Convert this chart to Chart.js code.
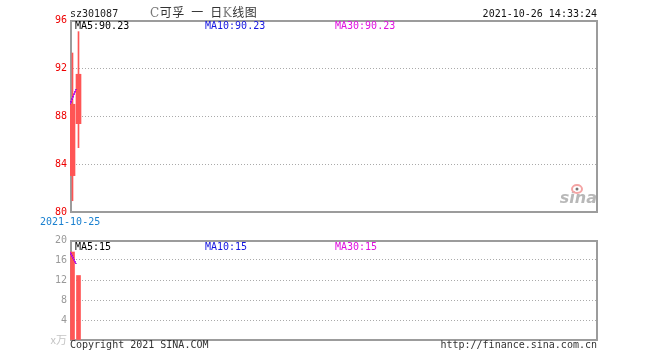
<!DOCTYPE html>
<html><head><meta charset="utf-8">
<script src="https://cdn.jsdelivr.net/npm/chart.js@4.4.0/dist/chart.umd.min.js"></script>
<style>
html,body{margin:0;padding:0;background:#fff;width:660px;height:360px;overflow:hidden;}
#wrap{position:relative;width:660px;height:360px;}
canvas{position:absolute;left:0;}
.t{position:absolute;font:10px "DejaVu Sans Mono",monospace;line-height:12px;white-space:pre;}
.cn{position:absolute;font:12px "Noto Sans CJK SC",sans-serif;line-height:14px;white-space:pre;color:#333;letter-spacing:0.5px;}
.cn .l{color:#777;font-family:"DejaVu Serif",serif;}
</style></head><body>
<div id="wrap">
<canvas id="k" width="660" height="230" style="top:0"></canvas>
<canvas id="v" width="660" height="130" style="top:230px"></canvas>
<div class="t" style="left:70px;top:7.5px;color:#222">sz301087</div>
<div class="cn" style="left:150px;top:4.5px"><span class="l">C</span>可孚&#8194;一&#8194;日<span class="l">K</span>线图</div>
<div class="t" style="right:63px;top:7.5px;color:#111">2021-10-26 14:33:24</div>
<div class="t" id="m5" style="left:75px;top:19.5px;color:#000"></div>
<div class="t" id="m10" style="left:205px;top:19.5px;color:#1515e0"></div>
<div class="t" id="m30" style="left:335px;top:19.5px;color:#e010e0"></div>
<div class="t" id="d0" style="left:40px;top:215.5px;color:#1a80d0"></div>
<div class="t" id="v5" style="left:75px;top:240.5px;color:#000"></div>
<div class="t" id="v10" style="left:205px;top:240.5px;color:#1515e0"></div>
<div class="t" id="v30" style="left:335px;top:240.5px;color:#e010e0"></div>
<div class="t" style="left:70px;top:338.5px;color:#333">Copyright 2021 SINA.COM</div>
<div class="t" style="right:63px;top:338.5px;color:#333">http://finance.sina.com.cn</div>
</div>
<script>
// ---- data ----
const categories = ['2021-10-25', '2021-10-26'];
const openP  = [83.03, 87.36];
const closeP = [88.98, 91.48];
const highP  = [93.25, 95.03];
const lowP   = [80.94, 85.36];
const ma5  = [88.98, 90.23];
const ma10 = [88.98, 90.23];
const ma30 = [88.98, 90.23];
const volume  = [17.6, 12.9];   // x万
const volMa5  = [17.6, 15.25];
const volMa10 = [17.6, 15.25];
const volMa30 = [17.6, 15.25];
const priceTicks = [80, 84, 88, 92, 96];
const volTicks = [0, 4, 8, 12, 16, 20];
const slotCount = 88;

const RED = '#ff5555';
const last = a => a[a.length - 1];
document.getElementById('m5').textContent = 'MA5:' + last(ma5).toFixed(2);
document.getElementById('m10').textContent = 'MA10:' + last(ma10).toFixed(2);
document.getElementById('m30').textContent = 'MA30:' + last(ma30).toFixed(2);
document.getElementById('v5').textContent = 'MA5:' + Math.round(last(volMa5));
document.getElementById('v10').textContent = 'MA10:' + Math.round(last(volMa10));
document.getElementById('v30').textContent = 'MA30:' + Math.round(last(volMa30));
document.getElementById('d0').textContent = categories[0];

const pts = arr => arr.map((v, i) => ({x: i, y: v}));
const range = (a, b) => a.map((v, i) => ({x: i, y: [v, b[i]]}));

const frame = {
  id: 'frame',
  beforeDatasetsDraw(chart) {
    const {ctx, chartArea: a} = chart;
    ctx.save();
    ctx.strokeStyle = '#9c9c9c';
    ctx.lineWidth = 2;
    ctx.strokeRect(a.left + 1, a.top + 1, a.right - a.left - 2, a.bottom - a.top - 1);
    ctx.restore();
  }
};
const logo = {
  id: 'logo',
  afterDraw(chart) {
    const {ctx, chartArea: a} = chart;
    ctx.save();
    ctx.fillStyle = '#b8b8b8';
    ctx.font = 'italic bold 16px "DejaVu Sans"';
    ctx.textAlign = 'right';
    ctx.textBaseline = 'alphabetic';
    ctx.fillText('sina', a.right - 1, a.bottom - 9);
    ctx.strokeStyle = '#f4a4a4';
    ctx.lineWidth = 2;
    ctx.beginPath();
    ctx.ellipse(a.right - 21, a.bottom - 23, 5, 4, 0, 0, Math.PI * 2);
    ctx.stroke();
    ctx.fillStyle = '#777';
    ctx.beginPath();
    ctx.arc(a.right - 21, a.bottom - 23, 1.5, 0, Math.PI * 2);
    ctx.fill();
    ctx.restore();
  }
};

const monoFont = {family: '"DejaVu Sans Mono", monospace', size: 10};
const lineDs = (data, color, axis) => ({
  type: 'line', data: pts(data), xAxisID: axis, borderColor: color, borderWidth: 1,
  pointRadius: 0, tension: 0, fill: false
});
const common = {
  responsive: false, maintainAspectRatio: false, animation: false, devicePixelRatio: 1,
  plugins: {legend: {display: false}, tooltip: {enabled: false}, title: {display: false}},
  events: []
};
const xScales = {
  x: {type: 'linear', min: -0.4167, max: slotCount - 0.4167, display: false, offset: false, grid: {offset: false}},
  xm: {type: 'linear', min: 0, max: slotCount, display: false, offset: false, grid: {offset: false}}
};

new Chart(document.getElementById('k'), {
  type: 'bar',
  data: {
    datasets: [
      lineDs(ma30, '#ff00ff', 'xm'),
      lineDs(ma10, '#2020ff', 'xm'),
      lineDs(ma5, '#000000', 'xm'),
      {data: range(openP, closeP), backgroundColor: RED, barThickness: 5, grouped: false, borderWidth: 0, xAxisID: 'x'},
      {data: range(lowP, highP), backgroundColor: RED, barThickness: 1, grouped: false, borderWidth: 0, xAxisID: 'x'}
    ]
  },
  options: Object.assign({}, common, {
    layout: {padding: {top: 20, right: 62, bottom: 18, left: 0}},
    scales: Object.assign({}, xScales, {
      y: {
        min: 80, max: 96,
        afterBuildTicks: s => { s.ticks = priceTicks.map(v => ({value: v})); },
        afterFit: s => { s.width = 70; },
        ticks: {color: '#ee0000', font: monoFont, padding: 3},
        grid: {drawTicks: false, lineWidth: 1,
          color: c => (c.tick && (c.tick.value === 80 || c.tick.value === 96)) ? 'rgba(0,0,0,0)' : '#aaaaaa'},
        border: {display: false, dash: [1, 2]}
      }
    })
  }),
  plugins: [frame, logo]
});

new Chart(document.getElementById('v'), {
  type: 'bar',
  data: {
    datasets: [
      lineDs(volMa30, '#ff00ff', 'xm'),
      lineDs(volMa10, '#2020ff', 'xm'),
      lineDs(volMa5, '#000000', 'xm'),
      {data: pts(volume), backgroundColor: RED, barThickness: 4, grouped: false, borderWidth: 0, xAxisID: 'x'}
    ]
  },
  options: Object.assign({}, common, {
    layout: {padding: {top: 10, right: 62, bottom: 20, left: 0}},
    scales: Object.assign({}, xScales, {
      y: {
        min: 0, max: 20,
        afterBuildTicks: s => { s.ticks = volTicks.map(v => ({value: v})); },
        afterFit: s => { s.width = 70; },
        ticks: {
          padding: 3,
          color: c => (c.tick && c.tick.value === 0) ? '#c4c4c4' : '#999999',
          font: c => (c.tick && c.tick.value === 0) ? {family: '"Noto Sans CJK SC", serif', size: 11} : monoFont,
          callback: v => v === 0 ? 'x万' : String(v)
        },
        grid: {drawTicks: false, lineWidth: 1,
          color: c => (c.tick && (c.tick.value === 0 || c.tick.value === 20)) ? 'rgba(0,0,0,0)' : '#aaaaaa'},
        border: {display: false, dash: [1, 2]}
      }
    })
  }),
  plugins: [frame]
});
</script>
</body></html>
